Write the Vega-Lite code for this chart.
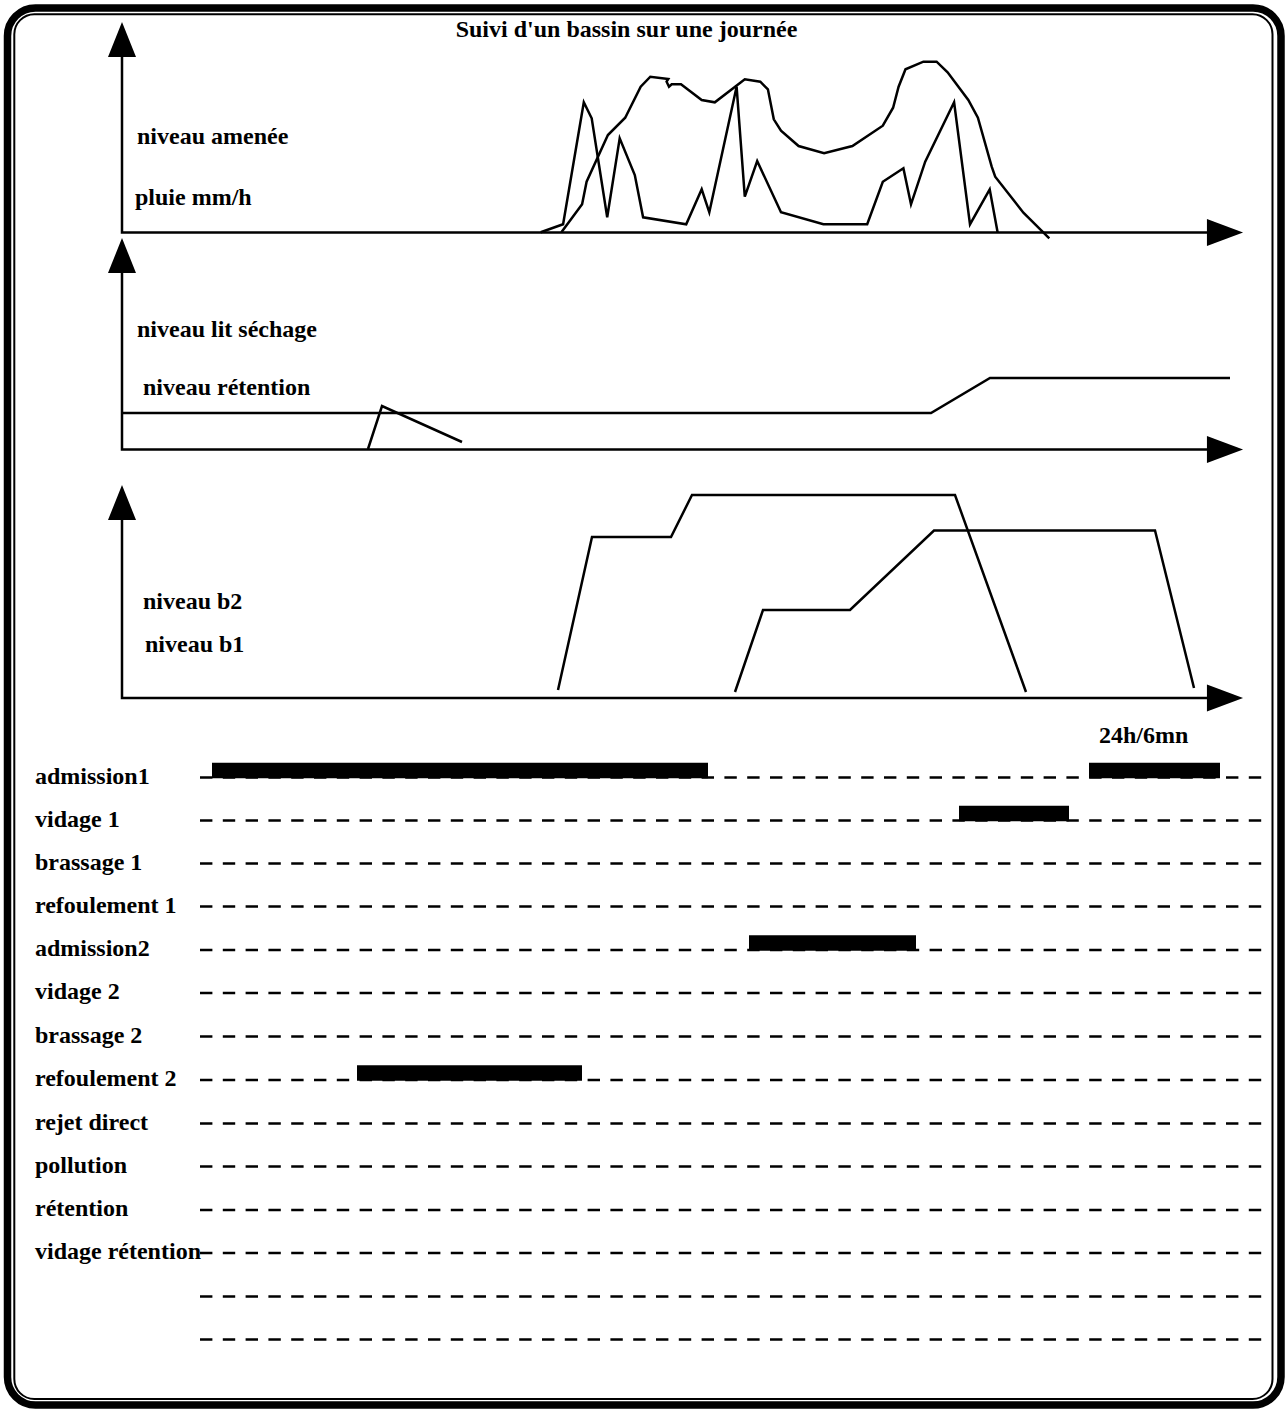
{
  "$schema": "https://vega.github.io/schema/vega-lite/v6.json",
  "width": 1286,
  "height": 1409,
  "autosize": {"type": "fit", "contains": "padding"},
  "padding": 0,
  "background": "white",
  "config": {
    "view": {"stroke": null},
    "text": {"font": "Liberation Serif", "fontWeight": "bold", "fontSize": 24, "color": "black"}
  },
  "datasets": {
    "cadre": [
      {"partie": "exterieur", "t": 7.5, "t2": 1281, "v": 8, "v2": 1405},
      {"partie": "interieur", "t": 14.3, "t2": 1272.5, "v": 14.3, "v2": 1399}
    ],
    "courbes": [
      {"serie": "axe1", "i": 0, "t": 122, "v": 57},
      {"serie": "axe1", "i": 1, "t": 122, "v": 232.5},
      {"serie": "axe1", "i": 2, "t": 1212, "v": 232.5},
      {"serie": "axe2", "i": 0, "t": 122, "v": 273},
      {"serie": "axe2", "i": 1, "t": 122, "v": 449.5},
      {"serie": "axe2", "i": 2, "t": 1212, "v": 449.5},
      {"serie": "axe3", "i": 0, "t": 122, "v": 520},
      {"serie": "axe3", "i": 1, "t": 122, "v": 698},
      {"serie": "axe3", "i": 2, "t": 1212, "v": 698},

      {"serie": "pluie", "i": 0, "t": 540.7, "v": 232.3},
      {"serie": "pluie", "i": 1, "t": 563.1, "v": 224.3},
      {"serie": "pluie", "i": 2, "t": 583.8, "v": 102.3},
      {"serie": "pluie", "i": 3, "t": 591.7, "v": 118.3},
      {"serie": "pluie", "i": 4, "t": 607.2, "v": 217.3},
      {"serie": "pluie", "i": 5, "t": 619.7, "v": 138.3},
      {"serie": "pluie", "i": 6, "t": 634.8, "v": 175},
      {"serie": "pluie", "i": 7, "t": 643.1, "v": 217.3},
      {"serie": "pluie", "i": 8, "t": 686.2, "v": 224.3},
      {"serie": "pluie", "i": 9, "t": 701.7, "v": 189.3},
      {"serie": "pluie", "i": 10, "t": 709.3, "v": 212.3},
      {"serie": "pluie", "i": 11, "t": 736.6, "v": 86.7},
      {"serie": "pluie", "i": 12, "t": 744.8, "v": 196.7},
      {"serie": "pluie", "i": 13, "t": 757.2, "v": 161},
      {"serie": "pluie", "i": 14, "t": 781, "v": 212.3},
      {"serie": "pluie", "i": 15, "t": 823.4, "v": 224.3},
      {"serie": "pluie", "i": 16, "t": 867.2, "v": 224.3},
      {"serie": "pluie", "i": 17, "t": 882.8, "v": 181.7},
      {"serie": "pluie", "i": 18, "t": 903.4, "v": 168.3},
      {"serie": "pluie", "i": 19, "t": 911, "v": 204.3},
      {"serie": "pluie", "i": 20, "t": 925.2, "v": 161.7},
      {"serie": "pluie", "i": 21, "t": 954.1, "v": 102.3},
      {"serie": "pluie", "i": 22, "t": 970, "v": 224.3},
      {"serie": "pluie", "i": 23, "t": 989.7, "v": 189.3},
      {"serie": "pluie", "i": 24, "t": 997.6, "v": 232.3},

      {"serie": "amenee", "i": 0, "t": 561.4, "v": 232.3},
      {"serie": "amenee", "i": 1, "t": 582.1, "v": 204.3},
      {"serie": "amenee", "i": 2, "t": 586.6, "v": 181.7},
      {"serie": "amenee", "i": 3, "t": 607.9, "v": 135},
      {"serie": "amenee", "i": 4, "t": 625.2, "v": 117.7},
      {"serie": "amenee", "i": 5, "t": 640.7, "v": 86.7},
      {"serie": "amenee", "i": 6, "t": 650.3, "v": 76.7},
      {"serie": "amenee", "i": 7, "t": 668.3, "v": 79},
      {"serie": "amenee", "i": 8, "t": 666.6, "v": 81.7},
      {"serie": "amenee", "i": 9, "t": 669, "v": 86.7},
      {"serie": "amenee", "i": 10, "t": 671.7, "v": 84.3},
      {"serie": "amenee", "i": 11, "t": 681, "v": 84.3},
      {"serie": "amenee", "i": 12, "t": 701.7, "v": 100},
      {"serie": "amenee", "i": 13, "t": 714.8, "v": 102.3},
      {"serie": "amenee", "i": 14, "t": 744.8, "v": 79.3},
      {"serie": "amenee", "i": 15, "t": 760.3, "v": 81.7},
      {"serie": "amenee", "i": 16, "t": 767.9, "v": 89.3},
      {"serie": "amenee", "i": 17, "t": 773.8, "v": 119.3},
      {"serie": "amenee", "i": 18, "t": 781, "v": 130.7},
      {"serie": "amenee", "i": 19, "t": 798.6, "v": 146},
      {"serie": "amenee", "i": 20, "t": 824.1, "v": 153.3},
      {"serie": "amenee", "i": 21, "t": 852.4, "v": 146},
      {"serie": "amenee", "i": 22, "t": 882.8, "v": 125.7},
      {"serie": "amenee", "i": 23, "t": 893.1, "v": 107.7},
      {"serie": "amenee", "i": 24, "t": 898.6, "v": 86.7},
      {"serie": "amenee", "i": 25, "t": 905.5, "v": 69.3},
      {"serie": "amenee", "i": 26, "t": 923.4, "v": 61.7},
      {"serie": "amenee", "i": 27, "t": 936.6, "v": 61.7},
      {"serie": "amenee", "i": 28, "t": 947.6, "v": 72.3},
      {"serie": "amenee", "i": 29, "t": 968.3, "v": 100},
      {"serie": "amenee", "i": 30, "t": 977.9, "v": 117.7},
      {"serie": "amenee", "i": 31, "t": 991.7, "v": 166.7},
      {"serie": "amenee", "i": 32, "t": 995.2, "v": 176.7},
      {"serie": "amenee", "i": 33, "t": 1023.4, "v": 212.7},
      {"serie": "amenee", "i": 34, "t": 1049.3, "v": 238.3},

      {"serie": "lit_sechage", "i": 0, "t": 122, "v": 413},
      {"serie": "lit_sechage", "i": 1, "t": 931, "v": 413},
      {"serie": "lit_sechage", "i": 2, "t": 990, "v": 378},
      {"serie": "lit_sechage", "i": 3, "t": 1230, "v": 378},

      {"serie": "retention", "i": 0, "t": 368, "v": 449},
      {"serie": "retention", "i": 1, "t": 382, "v": 406},
      {"serie": "retention", "i": 2, "t": 462, "v": 442},

      {"serie": "b2", "i": 0, "t": 558, "v": 690},
      {"serie": "b2", "i": 1, "t": 592, "v": 537},
      {"serie": "b2", "i": 2, "t": 671, "v": 537},
      {"serie": "b2", "i": 3, "t": 692, "v": 495},
      {"serie": "b2", "i": 4, "t": 955, "v": 495},
      {"serie": "b2", "i": 5, "t": 1026, "v": 692},

      {"serie": "b1", "i": 0, "t": 735, "v": 692},
      {"serie": "b1", "i": 1, "t": 763, "v": 610},
      {"serie": "b1", "i": 2, "t": 850, "v": 610},
      {"serie": "b1", "i": 3, "t": 934, "v": 530.5},
      {"serie": "b1", "i": 4, "t": 1155, "v": 530.5},
      {"serie": "b1", "i": 5, "t": 1194, "v": 688}
    ],
    "fleches": [
      {"sens": "haut", "t": 122, "v": 39.5},
      {"sens": "haut", "t": 122, "v": 255.5},
      {"sens": "haut", "t": 122, "v": 502.5},
      {"sens": "droite", "t": 1225, "v": 232.5},
      {"sens": "droite", "t": 1225, "v": 449.5},
      {"sens": "droite", "t": 1225, "v": 698}
    ],
    "titre": [
      {"texte": "Suivi d'un bassin sur une journée", "t": 626.5, "v": 36.5}
    ],
    "etiquettes": [
      {"texte": "niveau amenée", "t": 137, "v": 144},
      {"texte": "pluie mm/h", "t": 135, "v": 205},
      {"texte": "niveau lit séchage", "t": 137, "v": 337},
      {"texte": "niveau rétention", "t": 143, "v": 395},
      {"texte": "niveau b2", "t": 143, "v": 609},
      {"texte": "niveau b1", "t": 145, "v": 652},
      {"texte": "24h/6mn", "t": 1099, "v": 742.5}
    ],
    "lignes": [
      {"tache": "admission1", "etiquette": "admission1", "v": 777.5},
      {"tache": "vidage 1", "etiquette": "vidage 1", "v": 820.5},
      {"tache": "brassage 1", "etiquette": "brassage 1", "v": 863.5},
      {"tache": "refoulement 1", "etiquette": "refoulement 1", "v": 906.5},
      {"tache": "admission2", "etiquette": "admission2", "v": 950},
      {"tache": "vidage 2", "etiquette": "vidage 2", "v": 993},
      {"tache": "brassage 2", "etiquette": "brassage 2", "v": 1036.5},
      {"tache": "refoulement 2", "etiquette": "refoulement 2", "v": 1080},
      {"tache": "rejet direct", "etiquette": "rejet direct", "v": 1123.5},
      {"tache": "pollution", "etiquette": "pollution", "v": 1166.5},
      {"tache": "rétention", "etiquette": "rétention", "v": 1210},
      {"tache": "vidage rétention", "etiquette": "vidage rétention", "v": 1253},
      {"tache": "ligne 13", "etiquette": "", "v": 1296.5},
      {"tache": "ligne 14", "etiquette": "", "v": 1339.5}
    ],
    "barres": [
      {"tache": "admission1", "debut": 212, "fin": 708},
      {"tache": "admission1", "debut": 1089, "fin": 1220},
      {"tache": "vidage 1", "debut": 959, "fin": 1069},
      {"tache": "admission2", "debut": 749, "fin": 916},
      {"tache": "refoulement 2", "debut": 357, "fin": 582}
    ]
  },
  "layer": [
    {
      "data": {"name": "cadre"},
      "transform": [{"filter": "datum.partie === 'exterieur'"}],
      "mark": {"type": "rect", "fill": "white", "fillOpacity": 0, "stroke": "black", "strokeWidth": 7.5, "cornerRadius": 28},
      "encoding": {
        "x": {"field": "t", "type": "quantitative", "scale": {"domain": [0, 1286], "nice": false, "zero": false}, "axis": null},
        "x2": {"field": "t2"},
        "y": {"field": "v", "type": "quantitative", "scale": {"domain": [0, 1409], "reverse": true, "nice": false, "zero": false}, "axis": null},
        "y2": {"field": "v2"}
      }
    },
    {
      "data": {"name": "cadre"},
      "transform": [{"filter": "datum.partie === 'interieur'"}],
      "mark": {"type": "rect", "fill": "white", "fillOpacity": 0, "stroke": "black", "strokeWidth": 2, "cornerRadius": 20},
      "encoding": {
        "x": {"field": "t", "type": "quantitative", "axis": null},
        "x2": {"field": "t2"},
        "y": {"field": "v", "type": "quantitative", "axis": null},
        "y2": {"field": "v2"}
      }
    },
    {
      "data": {"name": "courbes"},
      "mark": {"type": "line", "color": "black", "strokeWidth": 2.5, "strokeJoin": "miter"},
      "encoding": {
        "x": {"field": "t", "type": "quantitative", "axis": null},
        "y": {"field": "v", "type": "quantitative", "axis": null},
        "detail": {"field": "serie", "type": "nominal"},
        "order": {"field": "i", "type": "quantitative"}
      }
    },
    {
      "data": {"name": "fleches"},
      "transform": [{"filter": "datum.sens === 'haut'"}],
      "mark": {"type": "point", "shape": "M0,-1.25L1,1.25L-1,1.25Z", "size": 784, "filled": true, "color": "black", "opacity": 1, "strokeWidth": 0},
      "encoding": {
        "x": {"field": "t", "type": "quantitative", "axis": null},
        "y": {"field": "v", "type": "quantitative", "axis": null}
      }
    },
    {
      "data": {"name": "fleches"},
      "transform": [{"filter": "datum.sens === 'droite'"}],
      "mark": {"type": "point", "shape": "M1.29,0L-1.29,-0.96L-1.29,0.96Z", "size": 784, "filled": true, "color": "black", "opacity": 1, "strokeWidth": 0},
      "encoding": {
        "x": {"field": "t", "type": "quantitative", "axis": null},
        "y": {"field": "v", "type": "quantitative", "axis": null}
      }
    },
    {
      "data": {"name": "lignes"},
      "mark": {"type": "rule", "color": "black", "strokeWidth": 2.5, "strokeDash": [12.4, 10.4], "strokeCap": "butt"},
      "encoding": {
        "x": {"datum": 200, "type": "quantitative", "axis": null},
        "x2": {"datum": 1263},
        "y": {"field": "v", "type": "quantitative", "axis": null}
      }
    },
    {
      "data": {"name": "barres"},
      "transform": [{"lookup": "tache", "from": {"data": {"name": "lignes"}, "key": "tache", "fields": ["v"]}}],
      "mark": {"type": "rule", "color": "black", "strokeWidth": 15.5, "strokeCap": "butt", "yOffset": -7},
      "encoding": {
        "x": {"field": "debut", "type": "quantitative", "axis": null},
        "x2": {"field": "fin"},
        "y": {"field": "v", "type": "quantitative", "axis": null}
      }
    },
    {
      "data": {"name": "lignes"},
      "mark": {"type": "text", "align": "left", "baseline": "alphabetic", "dy": 6},
      "encoding": {
        "x": {"datum": 35, "type": "quantitative", "axis": null},
        "y": {"field": "v", "type": "quantitative", "axis": null},
        "text": {"field": "etiquette"}
      }
    },
    {
      "data": {"name": "etiquettes"},
      "mark": {"type": "text", "align": "left", "baseline": "alphabetic"},
      "encoding": {
        "x": {"field": "t", "type": "quantitative", "axis": null},
        "y": {"field": "v", "type": "quantitative", "axis": null},
        "text": {"field": "texte"}
      }
    },
    {
      "data": {"name": "titre"},
      "mark": {"type": "text", "align": "center", "baseline": "alphabetic"},
      "encoding": {
        "x": {"field": "t", "type": "quantitative", "axis": null},
        "y": {"field": "v", "type": "quantitative", "axis": null},
        "text": {"field": "texte"}
      }
    }
  ]
}
